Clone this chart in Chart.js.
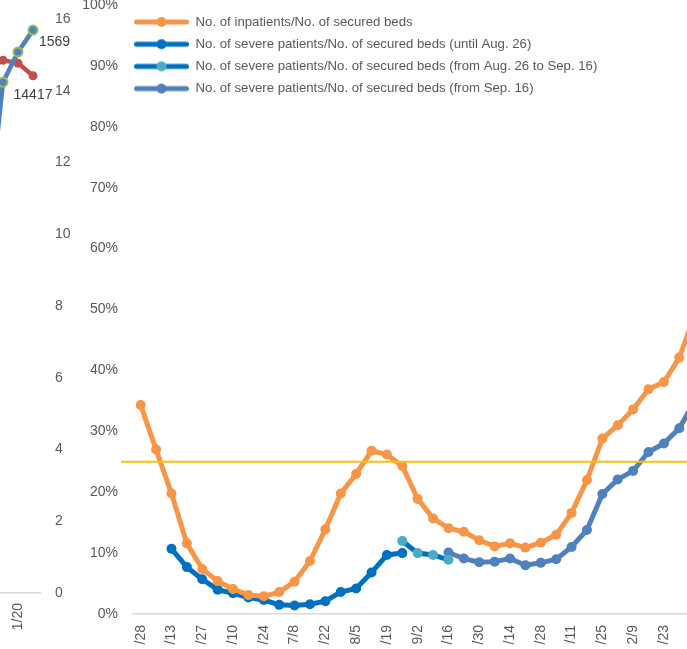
<!DOCTYPE html>
<html>
<head>
<meta charset="utf-8">
<script src="https://cdn.jsdelivr.net/npm/chart.js@4.4.1/dist/chart.umd.min.js"></script>
<style>
html, body { margin:0; padding:0; background:#fff; overflow:hidden; width:687px; height:649px; }
canvas { position:absolute; top:0; left:0; }
</style>
</head>
<body>
<canvas id="left" width="80" height="649"></canvas>
<canvas id="main" width="687" height="649"></canvas>
<script>
// ---------- data (main chart) ----------
const xTickLabels = ["/28","/13","/27","/10","/24","7/8","/22","8/5","/19","9/2","/16","/30","/14","/28","/11","/25","2/9","/23"];
const seriesNames = [
  "No. of inpatients/No. of secured beds",
  "No. of severe patients/No. of secured beds (until Aug. 26)",
  "No. of severe patients/No. of secured beds (from Aug. 26 to Sep. 16)",
  "No. of severe patients/No. of secured beds (from Sep. 16)"
];
const inpatients = [34.3,27.0,19.8,11.6,7.4,5.4,4.1,3.1,2.9,3.6,5.3,8.7,13.9,19.8,23.0,26.8,26.2,24.3,18.9,15.7,14.1,13.5,12.1,11.1,11.6,10.9,11.7,13.0,16.6,22.0,28.8,31.0,33.6,36.9,38.1,42.1,49.0];
const severeUntilAug26 = [null,null,10.7,7.7,5.7,4.0,3.4,2.7,2.3,1.5,1.4,1.6,2.1,3.6,4.2,6.8,9.7,10.0];
const severeAug26toSep16 = [null,null,null,null,null,null,null,null,null,null,null,null,null,null,null,null,null,12.0,10.0,9.7,8.9];
const severeFromSep16 = [null,null,null,null,null,null,null,null,null,null,null,null,null,null,null,null,null,null,null,null,10.1,9.1,8.5,8.6,9.1,8.0,8.4,9.0,11.0,13.8,19.7,22.1,23.5,26.6,28.0,30.5,34.9];
const threshold = 25;

// ---------- data (left fragment chart) ----------
const leftCategories = ["", "", "1/20", ""];
const leftBlue = [10.3, 14.24, 15.08, 15.69];
const leftRed = [14.6, 14.85, 14.77, 14.417];
const leftValueLabels = ["1569", "14417"];

Chart.defaults.font.family = '"Liberation Sans", Arial, sans-serif';
Chart.defaults.color = '#595959';

const toPts = arr => arr.map((v, i) => v == null ? null : {x: i, y: v}).filter(p => p);

function icon(line, marker) {
  const c = document.createElement('canvas');
  c.width = 55; c.height = 14;
  const g = c.getContext('2d');
  g.strokeStyle = line; g.lineWidth = 5; g.lineCap = 'round';
  g.beginPath(); g.moveTo(2.5, 7); g.lineTo(52.5, 7); g.stroke();
  g.fillStyle = marker;
  g.beginPath(); g.arc(27.5, 7, 5, 0, Math.PI * 2); g.fill();
  return c;
}

const styles = [
  {line: '#F79646', marker: '#F79646'},
  {line: '#0070C0', marker: '#0070C0'},
  {line: '#0070C0', marker: '#4BACC6'},
  {line: '#4F81BD', marker: '#4F81BD'}
];
const seriesData = [inpatients, severeUntilAug26, severeAug26toSep16, severeFromSep16];
const icons = [null].concat(styles.map(s => icon(s.line, s.marker)));

const datasets = [{
  label: 'threshold',
  data: [{x: -1.28, y: threshold}, {x: 37, y: threshold}],
  borderColor: '#FFC000', borderWidth: 2, pointRadius: 0, clip: false
}].concat(seriesData.map((d, k) => ({
  label: seriesNames[k],
  data: toPts(d),
  borderColor: styles[k].line,
  backgroundColor: styles[k].marker,
  pointBackgroundColor: styles[k].marker,
  pointBorderColor: styles[k].marker,
  pointBorderWidth: 0,
  pointRadius: 5,
  borderWidth: 5,
  tension: 0,
  clip: false
})));

const legendPlace = {
  id: 'legendPlace',
  afterLayout(chart) {
    const l = chart.legend;
    if (l) {
      l.left = chart.chartArea.left - 8; l.right = l.left + l.width;
      l.top = 6.4; l.bottom = l.top + l.height;
    }
  }
};

new Chart(document.getElementById('main'), {
  type: 'line',
  data: { datasets },
  options: {
    responsive: false,
    animation: false,
    layout: { autoPadding: false, padding: { top: 5, left: 0, right: 0, bottom: 0 } },
    plugins: {
      tooltip: { enabled: false },
      legend: {
        position: 'chartArea',
        align: 'start',
        labels: {
          usePointStyle: true,
          pointStyleWidth: 55,
          padding: 9,
          color: '#595959',
          font: { size: 13.2 },
          generateLabels(chart) {
            return chart.data.datasets.map((ds, i) => ({
              text: ds.label, datasetIndex: i, hidden: false,
              pointStyle: icons[i], fillStyle: 'rgba(0,0,0,0)', strokeStyle: 'rgba(0,0,0,0)',
              lineWidth: 0, fontColor: '#595959'
            })).filter(it => icons[it.datasetIndex]);
          }
        }
      }
    },
    scales: {
      x: {
        type: 'linear', min: -0.5, max: 35.5,
        grid: { display: false, drawTicks: false },
        border: { display: true, color: '#D9D9D9', width: 1.5 },
        ticks: {
          autoSkip: false, maxRotation: 90, minRotation: 90, padding: 11,
          color: '#595959', font: { size: 14 },
          callback: v => (Number.isInteger(v / 2) && xTickLabels[v / 2] !== undefined) ? xTickLabels[v / 2] : ''
        },
        afterBuildTicks: s => { s.ticks = xTickLabels.map((_, k) => ({ value: 2 * k })); },
        afterFit: s => { s.height = 35; s.paddingLeft = 0; s.paddingRight = 0; }
      },
      y: {
        min: 0, max: 100,
        grid: { display: false, drawTicks: false },
        border: { display: false },
        ticks: { stepSize: 10, padding: 15, color: '#595959', font: { size: 14 }, callback: v => v + '%' },
        afterFit: s => { s.width = 133; s.paddingTop = 0; s.paddingBottom = 0; }
      }
    }
  },
  plugins: [legendPlace]
});

// ---------- left fragment chart ----------
const valueLabels = {
  id: 'valueLabels',
  afterDatasetsDraw(chart) {
    const ctx = chart.ctx;
    ctx.save();
    ctx.font = '14px "Liberation Sans", Arial, sans-serif';
    ctx.fillStyle = '#404040';
    ctx.textBaseline = 'middle';
    const b = chart.getDatasetMeta(0).data, pb = b[b.length - 1];
    ctx.textAlign = 'left';
    ctx.fillText(leftValueLabels[0], pb.x + 6, pb.y + 12);
    const r = chart.getDatasetMeta(1).data, pr = r[r.length - 1];
    ctx.textAlign = 'center';
    ctx.fillText(leftValueLabels[1], pr.x, pr.y + 19);
    ctx.restore();
  }
};

new Chart(document.getElementById('left'), {
  type: 'line',
  data: {
    datasets: [
      { data: leftBlue.map((v, i) => ({x: i, y: v})), borderColor: '#4F81BD', borderWidth: 4.5,
        pointRadius: 4.5, pointBackgroundColor: '#4F81BD', pointBorderColor: '#9BBB59', pointBorderWidth: 2, clip: false },
      { data: leftRed.map((v, i) => ({x: i, y: v})), borderColor: '#C0504D', borderWidth: 4.5,
        pointRadius: 4.5, pointBackgroundColor: '#C0504D', pointBorderColor: '#C0504D', pointBorderWidth: 0, clip: false }
    ]
  },
  options: {
    responsive: false,
    animation: false,
    layout: { autoPadding: false, padding: { top: 19, left: 0, right: 0, bottom: 0 } },
    plugins: { legend: { display: false }, tooltip: { enabled: false } },
    scales: {
      x: {
        type: 'linear', min: 0.8, max: 3.4667,
        grid: { display: false, drawTicks: false },
        border: { display: true, color: '#D9D9D9', width: 1.5 },
        ticks: { autoSkip: false, maxRotation: 90, minRotation: 90, padding: 10, color: '#595959', font: { size: 14 },
          callback: v => leftCategories[v] || '' },
        afterBuildTicks: s => { s.ticks = [{ value: 2 }]; },
        afterFit: s => { s.height = 56; s.paddingLeft = 0; s.paddingRight = 0; }
      },
      y: {
        position: 'right', min: 0, max: 16,
        grid: { display: false, drawTicks: false },
        border: { display: false },
        ticks: { stepSize: 2, padding: 15, color: '#595959', font: { size: 14 } },
        afterFit: s => { s.width = 40; s.paddingTop = 0; s.paddingBottom = 0; }
      }
    }
  },
  plugins: [valueLabels]
});
</script>
</body>
</html>
